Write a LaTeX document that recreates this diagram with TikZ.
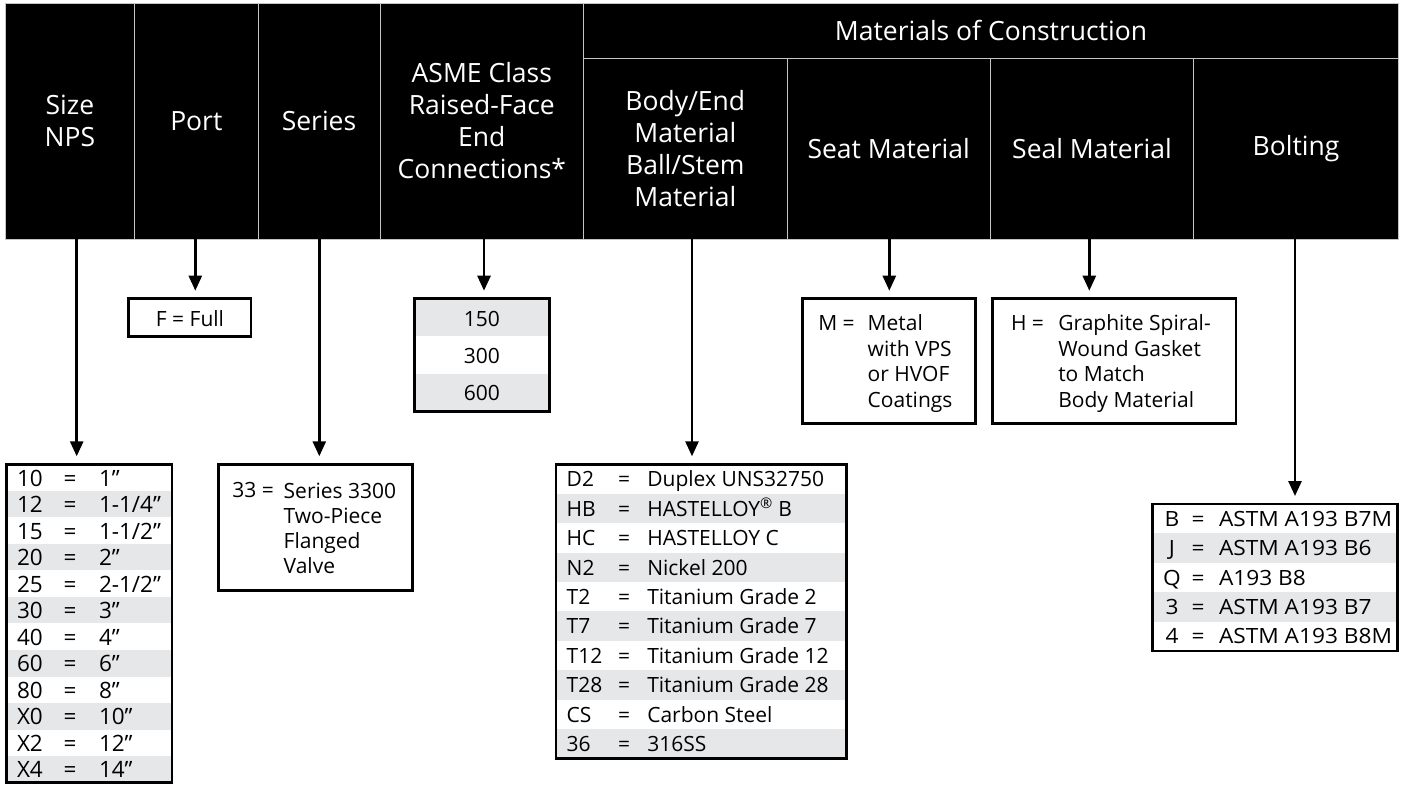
\documentclass[tikz,border=0pt]{standalone}
\usepackage{fontspec}
\setmainfont{Open Sans}
\newfontfamily\stretchfont[FakeStretch=1.08]{Open Sans}
\usetikzlibrary{arrows.meta}
\definecolor{rowgray}{HTML}{E6E7E8}
\definecolor{sepgray}{HTML}{C4C4C4}
\newcommand\hfont{\fontsize{26.5}{32}\selectfont}
\newcommand\bfont{\fontsize{21}{25.5}\selectfont}
\newcommand\szfont{\fontsize{22.5}{25.5}\selectfont}
\newcommand\btfont{\stretchfont\fontsize{21}{25.5}\selectfont}
\tikzset{
 hcell/.style={fill=black, draw=sepgray, line width=0.9pt, text=white, font=\hfont, align=center, inner sep=0pt, outer sep=0pt, anchor=north west},
 framebox/.style={draw=black, line width=2.6pt, inner sep=0pt, outer sep=0pt, anchor=north west},
 lt/.style={font=\bfont, inner sep=0pt, outer sep=0pt, text=black},
 arr/.style={line width=2.6pt, -{Triangle[length=15pt,width=13pt]}, shorten >=8pt},
}
% list row: #1 index, #2 shaded, #3 code, #4 value
\newcommand\lrow[4]{%
  \pgfmathsetmacro\rt{\Ly+(#1-1)*\Lh}%
  \pgfmathsetmacro\rc{\rt+\Lh/2+\Lbo}%
  \ifnum#2=1 \fill[rowgray] (\Lx,\rt) rectangle ++(\Lw,\Lh);\fi
  \node[lt, font=\Lfont, anchor=\Lca] (\Lname c#1) at (\Lcx,\rc) {#3};
  \node[lt, font=\Lfont, anchor=base] (\Lname e#1) at (\Lex,\rc) {=};
  \node[lt, font=\Lfont, anchor=base west] (\Lname v#1) at (\Lvx,\rc) {#4};
}
\begin{document}
\begin{tikzpicture}[x=1pt,y=-1pt]
\useasboundingbox (0,0) rectangle (1405,785);
% ---------- header ----------
\node[hcell, minimum width=129.7pt, minimum height=236pt] (hsize) at (5,3) {Size\\NPS};
\node[hcell, minimum width=123.3pt, minimum height=236pt] (hport) at (134.7,3) {Port};
\node[hcell, minimum width=122pt, minimum height=236pt] (hseries) at (258,3) {Series};
\node[hcell, minimum width=203.7pt, minimum height=236pt] (hasme) at (380,3) {ASME Class\\Raised-Face\\End\\Connections*};
\node[hcell, minimum width=814.6pt, minimum height=55.3pt] (hmat) at (583.7,3) {Materials of Construction};
\node[hcell, minimum width=203.3pt, minimum height=180.7pt] (hbody) at (583.7,58.3) {Body/End\\Material\\Ball/Stem\\Material};
\node[hcell, minimum width=203.3pt, minimum height=180.7pt] (hseat) at (787,58.3) {Seat Material};
\node[hcell, minimum width=203.4pt, minimum height=180.7pt] (hseal) at (990.3,58.3) {Seal Material};
\node[hcell, minimum width=204.6pt, minimum height=180.7pt] (hbolt) at (1193.7,58.3) {Bolting};

% ---------- Port ----------
\node[framebox, minimum width=122.3pt, minimum height=38pt] (portbox) at (128.7,298.7) {};
\node[lt, anchor=base] (porttxt) at (190,326) {F = Full};

% ---------- ASME ----------
\fill[rowgray] (414.3,298.7) rectangle ++(135,37.53);
\fill[rowgray] (414.3,373.76) rectangle ++(135,37.53);
\node[framebox, minimum width=135pt, minimum height=112.6pt] (asmebox) at (414.3,298.7) {};
\node[lt, anchor=base] (a150) at (481.8,326.3) {150};
\node[lt, anchor=base] (a300) at (481.8,363.6) {300};
\node[lt, anchor=base] (a600) at (481.8,400.9) {600};

% ---------- Seat ----------
\node[framebox, minimum width=173pt, minimum height=124.6pt] (seatbox) at (802.7,298.7) {};
\node[lt, anchor=base west] (seatc) at (818.3,330.7) {M =};
\node[lt, anchor=base west] (seat1) at (867.7,330.7) {Metal};
\node[lt, anchor=base west] (seat2) at (867.7,356.2) {with VPS};
\node[lt, anchor=base west] (seat3) at (867.7,381.7) {or HVOF};
\node[lt, anchor=base west] (seat4) at (867.7,407.2) {Coatings};

% ---------- Seal ----------
\node[framebox, minimum width=243.3pt, minimum height=124.6pt] (sealbox) at (992.7,298.7) {};
\node[lt, anchor=base west] (sealc) at (1011,330.7) {H =};
\node[lt, anchor=base west] (seal1) at (1058.3,330.7) {Graphite Spiral-};
\node[lt, anchor=base west] (seal2) at (1058.3,356.2) {Wound Gasket};
\node[lt, anchor=base west] (seal3) at (1058.3,381.7) {to Match};
\node[lt, anchor=base west] (seal4) at (1058.3,407.2) {Body Material};

% ---------- Size list ----------
\def\Lname{sz}\def\Lx{6.7}\def\Lw{165.3}\def\Ly{464.3}\def\Lh{26.53}\def\Lfont{\szfont}
\def\Lcx{17}\def\Lex{70}\def\Lvx{99}\def\Lbo{8.5}\def\Lca{base west}
\lrow{1}{0}{10}{1”}
\lrow{2}{1}{12}{1-1/4”}
\lrow{3}{0}{15}{1-1/2”}
\lrow{4}{1}{20}{2”}
\lrow{5}{0}{25}{2-1/2”}
\lrow{6}{1}{30}{3”}
\lrow{7}{0}{40}{4”}
\lrow{8}{1}{60}{6”}
\lrow{9}{0}{80}{8”}
\lrow{10}{1}{X0}{10”}
\lrow{11}{0}{X2}{12”}
\lrow{12}{1}{X4}{14”}
\node[framebox, minimum width=165.3pt, minimum height=318.4pt] (sizelist) at (6.7,464.3) {};

% ---------- Series ----------
\node[framebox, minimum width=194pt, minimum height=126.4pt] (seriesbox) at (218.7,464.3) {};
\node[lt, anchor=base west] (serc) at (232.3,497) {33 =};
\node[lt, anchor=base west] (ser1) at (283.7,498.3) {Series 3300};
\node[lt, anchor=base west] (ser2) at (283.7,523.3) {Two-Piece};
\node[lt, anchor=base west] (ser3) at (283.7,548.3) {Flanged};
\node[lt, anchor=base west] (ser4) at (283.7,573.3) {Valve};

% ---------- Body list ----------
\def\Lname{bd}\def\Lx{556}\def\Lw{290.7}\def\Ly{464.3}\def\Lh{29.4}\def\Lfont{\bfont}
\def\Lcx{566.7}\def\Lex{624}\def\Lvx{647.3}\def\Lbo{7.8}\def\Lca{base west}
\lrow{1}{0}{D2}{Duplex UNS32750}
\lrow{2}{1}{HB}{HASTELLOY\textsuperscript{®} B}
\lrow{3}{0}{HC}{HASTELLOY C}
\lrow{4}{1}{N2}{Nickel 200}
\lrow{5}{0}{T2}{Titanium Grade 2}
\lrow{6}{1}{T7}{Titanium Grade 7}
\lrow{7}{0}{T12}{Titanium Grade 12}
\lrow{8}{1}{T28}{Titanium Grade 28}
\lrow{9}{0}{CS}{Carbon Steel}
\lrow{10}{1}{36}{316SS}
\node[framebox, minimum width=290.7pt, minimum height=294pt] (bodylist) at (556,464.3) {};

% ---------- Bolting list ----------
\def\Lname{bt}\def\Lx{1152.3}\def\Lw{245.4}\def\Ly{504}\def\Lh{29.4}\def\Lfont{\btfont}
\def\Lcx{1172}\def\Lex{1198}\def\Lvx{1219}\def\Lbo{7.5}\def\Lca{base}
\lrow{1}{0}{B}{ASTM A193 B7M}
\lrow{2}{1}{J}{ASTM A193 B6}
\lrow{3}{0}{Q}{A193 B8}
\lrow{4}{1}{3}{ASTM A193 B7}
\lrow{5}{0}{4}{ASTM A193 B8M}
\node[framebox, minimum width=245.4pt, minimum height=147pt] (boltlist) at (1152.3,504) {};

% ---------- arrows ----------
\coordinate (xsize) at (76.7,0);
\coordinate (xport) at (195.3,0);
\coordinate (xseries) at (319.3,0);
\coordinate (xasme) at (484,0);
\coordinate (xbody) at (692,0);
\coordinate (xseat) at (889.3,0);
\coordinate (xseal) at (1089.3,0);
\coordinate (xbolt) at (1295,0);
\draw[arr] (hsize.south -| xsize) -- (sizelist.north -| xsize);
\draw[arr] (hport.south -| xport) -- (portbox.north -| xport);
\draw[arr] (hseries.south -| xseries) -- (seriesbox.north -| xseries);
\draw[arr] (hasme.south -| xasme) -- (asmebox.north -| xasme);
\draw[arr] (hbody.south -| xbody) -- (bodylist.north -| xbody);
\draw[arr] (hseat.south -| xseat) -- (seatbox.north -| xseat);
\draw[arr] (hseal.south -| xseal) -- (sealbox.north -| xseal);
\draw[arr] (hbolt.south -| xbolt) -- (boltlist.north -| xbolt);
\end{tikzpicture}
\end{document}
